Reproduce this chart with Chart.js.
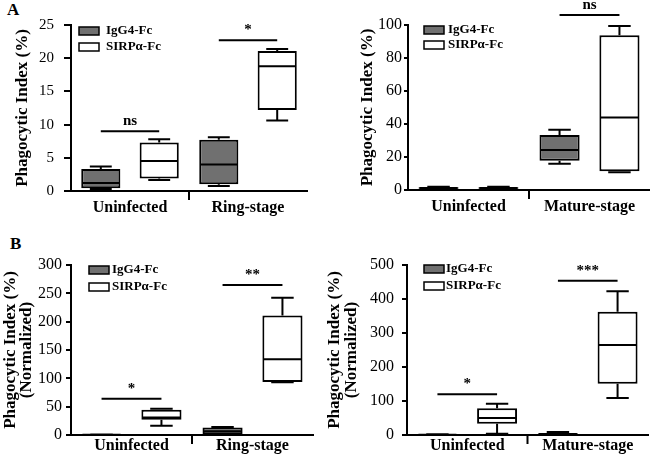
<!DOCTYPE html>
<html>
<head>
<meta charset="utf-8">
<script src="https://cdn.jsdelivr.net/npm/chart.js@4.4.1/dist/chart.umd.min.js"></script>
<style>
  body { margin: 0; background: #fff; width: 650px; height: 462px; position: relative; overflow: hidden; }
  canvas { position: absolute; }
  .tag { position: absolute; font: bold 17px "Liberation Serif", serif; color: #000; }
</style>
</head>
<body>
<div class="tag" style="left:7px;top:0px">A</div>
<div class="tag" style="left:10px;top:234px">B</div>
<canvas id="a1" width="320" height="231" style="left:0;top:0"></canvas>
<canvas id="a2" width="325" height="231" style="left:325px;top:0"></canvas>
<canvas id="b1" width="325" height="231" style="left:0;top:231px"></canvas>
<canvas id="b2" width="325" height="231" style="left:325px;top:231px"></canvas>
<script>
// box stats: [min, q1, median, q3, max]
const seriesNames = ['IgG4-Fc', 'SIRPα-Fc'];

const a1Cats = ['Uninfected', 'Ring-stage'];
const a1IgG4 = [[0.3, 0.4, 1.2, 3.3, 3.7], [0.75, 1.0, 4.0, 7.7, 8.1]];
const a1Sirp = [[1.65, 1.9, 4.5, 7.3, 7.8], [10.6, 12.2, 18.8, 21.1, 21.4]];
const a1SigY = [9.0, 22.7];
const a1SigText = ['ns', '*'];

const a2Cats = ['Uninfected', 'Mature-stage'];
const a2IgG4 = [[0.5, 0.8, 1.2, 1.6, 2.0], [15.9, 17.7, 24.2, 33.3, 36.5]];
const a2Sirp = [[0.5, 0.8, 1.2, 1.6, 2.0], [10.7, 11.3, 44.0, 93.8, 99.4]];
const a2SigY = [null, 106];
const a2SigText = ['', 'ns'];

const b1Cats = ['Uninfected', 'Ring-stage'];
const b1IgG4 = [[0, 0, 0.3, 0.6, 1], [0.5, 1.5, 6.5, 13.4, 14.2]];
const b1Sirp = [[16.5, 27, 31, 44.7, 46.5], [93, 93.5, 133.5, 211, 242]];
const b1SigY = [64, 264.7];
const b1SigText = ['*', '**'];

const b2Cats = ['Uninfected', 'Mature-stage'];
const b2IgG4 = [[0, 0.3, 0.8, 1.3, 2], [0, 1.5, 3, 5, 9]];
const b2Sirp = [[4, 33.3, 50, 78.4, 92], [108.8, 151, 264.7, 362.7, 422.5]];
const b2SigY = [119.6, 454];
const b2SigText = ['*', '***'];

const GREY = '#707070';
const SERIF = '"Liberation Serif", "Times New Roman", serif';

// draws whiskers, medians, divider tick, significance bars and legend
const boxPlot = {
  id: 'boxPlot',
  afterDatasetsDraw(chart, args, o) {
    const ctx = chart.ctx, ys = chart.scales.y, xs = chart.scales.x, area = chart.chartArea;
    ctx.save();
    ctx.strokeStyle = '#000';
    ctx.lineWidth = 2;
    const metas = chart.data.datasets.map((ds, di) => chart.getDatasetMeta(di));
    chart.data.datasets.forEach((ds, di) => {
      ds.stats.forEach((s, i) => {
        const bar = metas[di].data[i];
        const cx = bar.x, hw = bar.width / 2, cw = bar.width * 0.28;
        const [mn, q1, md, q3, mx] = s.map(v => ys.getPixelForValue(v));
        ctx.beginPath();
        ctx.moveTo(cx - hw + 1, md); ctx.lineTo(cx + hw - 1, md);
        ctx.moveTo(cx, q3); ctx.lineTo(cx, mx);
        ctx.moveTo(cx - cw, mx); ctx.lineTo(cx + cw, mx);
        ctx.moveTo(cx, q1); ctx.lineTo(cx, mn);
        ctx.moveTo(cx - cw, mn); ctx.lineTo(cx + cw, mn);
        ctx.stroke();
      });
    });

    // category divider tick below the axis
    const mid = (xs.getPixelForValue(0) + xs.getPixelForValue(1)) / 2;
    ctx.beginPath();
    ctx.moveTo(mid, area.bottom); ctx.lineTo(mid, area.bottom + 9);
    ctx.stroke();

    // significance bars
    ctx.fillStyle = '#000';
    ctx.textAlign = 'center';
    ctx.textBaseline = 'alphabetic';
    ctx.font = 'bold 15px ' + SERIF;
    o.sigY.forEach((v, i) => {
      if (v === null) return;
      const x0 = metas[0].data[i].x, x1 = metas[1].data[i].x;
      const yy = ys.getPixelForValue(v);
      ctx.beginPath();
      ctx.moveTo(x0, yy); ctx.lineTo(x1, yy);
      ctx.stroke();
      ctx.fillText(o.sigText[i], (x0 + x1) / 2, yy - 6);
    });

    // legend
    const lg = o.legend;
    ctx.textAlign = 'left';
    ctx.textBaseline = 'middle';
    ctx.font = 'bold 13px ' + SERIF;
    ctx.lineWidth = 1.5;
    chart.data.datasets.forEach((ds, di) => {
      const bx = area.left + lg.dx, by = area.top + lg.dy + di * lg.rowH;
      ctx.fillStyle = ds.backgroundColor;
      ctx.fillRect(bx, by, 20, 8);
      ctx.strokeRect(bx, by, 20, 8);
      ctx.fillStyle = '#000';
      ctx.fillText(ds.label, bx + 20 + lg.gap, by + 4);
    });
    ctx.restore();
  }
};

function makePanel(id, cats, igg, sirp, sigY, sigText, p) {
  const datasets = [igg, sirp].map((stats, k) => ({
    label: seriesNames[k],
    data: stats.map(s => [s[1], s[3]]),
    stats: stats,
    backgroundColor: k === 0 ? GREY : '#ffffff',
    borderColor: '#000',
    borderWidth: 2,
    borderSkipped: false,
    categoryPercentage: 0.99,
    barPercentage: 0.67
  }));
  return new Chart(document.getElementById(id), {
    type: 'bar',
    data: { labels: cats, datasets: datasets },
    plugins: [boxPlot],
    options: {
      responsive: false,
      animation: false,
      devicePixelRatio: 1,
      layout: { padding: { top: p.top, right: p.right, left: 0, bottom: 0 } },
      plugins: {
        legend: { display: false },
        tooltip: { enabled: false },
        boxPlot: { sigY: sigY, sigText: sigText, legend: p.legend }
      },
      scales: {
        x: {
          grid: { display: false, drawTicks: false },
          border: { display: true, color: '#000', width: 2 },
          ticks: { color: '#000', padding: p.xPad, font: { family: SERIF, size: 16, weight: 'bold' } },
          afterFit: s => { s.height = p.xH; }
        },
        y: {
          min: 0, max: p.max,
          grid: { display: true, drawOnChartArea: false, drawTicks: true, tickLength: p.tickLen, color: '#000', lineWidth: 2 },
          border: { display: true, color: '#000', width: 2 },
          ticks: { stepSize: p.step, color: '#000', padding: p.tickPad, font: { family: SERIF, size: p.tickSize } },
          title: {
            display: true,
            text: p.title,
            color: '#000',
            padding: { top: p.titlePad, bottom: 0 },
            font: { family: SERIF, size: 17, weight: 'bold', lineHeight: p.titleLH }
          },
          afterFit: s => { s.width = p.yW; }
        }
      }
    }
  });
}

makePanel('a1', a1Cats, a1IgG4, a1Sirp, a1SigY, a1SigText, {
  top: 25, right: 13, yW: 71, xH: 40, xPad: 7, max: 25, step: 5, tickLen: 7, tickPad: 10, tickSize: 15,
  title: 'Phagocytic Index (%)', titlePad: 12, titleLH: 1.2,
  legend: { dx: 8, dy: 2, rowH: 16, gap: 7 }
});
makePanel('a2', a2Cats, a2IgG4, a2Sirp, a2SigY, a2SigText, {
  top: 25, right: 0, yW: 83, xH: 41, xPad: 7, max: 100, step: 20, tickLen: 4, tickPad: 2, tickSize: 16,
  title: 'Phagocytic Index (%)', titlePad: 32, titleLH: 1.2,
  legend: { dx: 16, dy: 1, rowH: 15, gap: 4 }
});
makePanel('b1', b1Cats, b1IgG4, b1Sirp, b1SigY, b1SigText, {
  top: 34, right: 12, yW: 71, xH: 27, xPad: 1, max: 300, step: 50, tickLen: 5, tickPad: 4, tickSize: 16,
  title: ['Phagocytic Index (%)', '(Normalized)'], titlePad: 3, titleLH: '16px',
  legend: { dx: 18, dy: 1, rowH: 17, gap: 3 }
});
makePanel('b2', b2Cats, b2IgG4, b2Sirp, b2SigY, b2SigText, {
  top: 34, right: 2, yW: 82, xH: 27, xPad: 1, max: 500, step: 100, tickLen: 5, tickPad: 8, tickSize: 16,
  title: ['Phagocytic Index (%)', '(Normalized)'], titlePad: 1, titleLH: '17px',
  legend: { dx: 17, dy: 0, rowH: 17, gap: 2 }
});
</script>
</body>
</html>
